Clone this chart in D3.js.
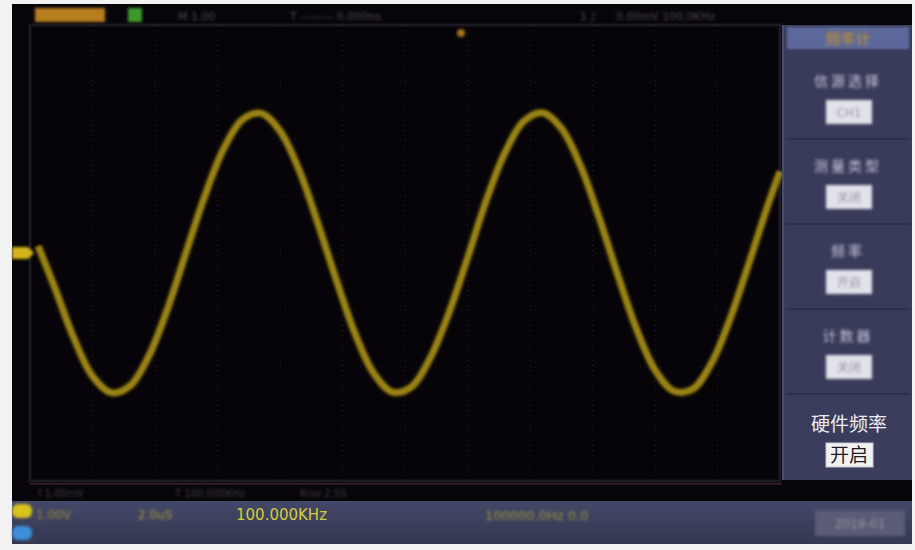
<!DOCTYPE html>
<html>
<head>
<meta charset="utf-8">
<script src="https://cdn.jsdelivr.net/npm/d3@7"></script>
<style>
  body { margin: 0; background: #f4f4f4; }
  svg { display: block; }
  text { font-family: "DejaVu Sans", "Noto Sans CJK SC", sans-serif; }
</style>
</head>
<body>
<svg id="scope" width="915" height="550"></svg>
<script>
// trace samples: time in divisions, volts in divisions
const traceTime = [0.13, 0.4, 0.7, 1.0, 1.3, 1.6, 1.9, 2.2, 2.5, 2.8, 3.1, 3.4, 3.7, 4.0, 4.3, 4.6,
  4.9, 5.2, 5.5, 5.8, 6.1, 6.4, 6.7, 7.0, 7.3, 7.6, 7.9, 8.2, 8.5, 8.8, 9.1, 9.4, 9.7, 10.0,
  10.3, 10.6, 10.9, 11.2, 11.5, 11.8, 12.0];
const traceVolt = [0.12, -0.62, -1.49, -2.16, -2.45, -2.33, -1.81, -0.98, 0.02, 1.01, 1.83, 2.34,
  2.45, 2.14, 1.47, 0.54, -0.47, -1.41, -2.11, -2.44, -2.35, -1.85, -1.06, -0.09, 0.92, 1.76,
  2.31, 2.46, 2.19, 1.55, 0.64, -0.37, -1.32, -2.05, -2.42, -2.39, -1.94, -1.16, -0.19, 0.82, 1.43];

const hDivs = d3.range(0, 13);
const vDivs = d3.range(-4, 5);

// right menu (labels unreadable on the photo, only the last one is sharp)
const menuLabels = ["信源选择", "测量类型", "频率", "计数器"];
const menuValues = ["CH1", "关闭", "开启", "关闭"];
const hwLabel = "硬件频率";
const hwValue = "开启";
const freqText = "100.000KHz";

const svg = d3.select("#scope");
const defs = svg.append("defs");
defs.append("filter").attr("id", "blur").attr("x", "-20%").attr("y", "-50%")
  .attr("width", "140%").attr("height", "200%")
  .append("feGaussianBlur").attr("stdDeviation", 1.8);
defs.append("filter").attr("id", "soft")
  .append("feGaussianBlur").attr("stdDeviation", 1.1);

// screen body
svg.append("rect").attr("x", 12).attr("y", 4).attr("width", 900).attr("height", 540)
  .attr("fill", "#07040a");

// top status bar
const topBar = svg.append("g").attr("filter", "url(#blur)");
topBar.append("rect").attr("x", 35).attr("y", 8).attr("width", 70).attr("height", 14)
  .attr("fill", "#b87d1c");
topBar.append("rect").attr("x", 128).attr("y", 8).attr("width", 14).attr("height", 14)
  .attr("fill", "#3c9a2c");
topBar.selectAll("text.st").data([["M 1.00", 178], ["T ——— 0.000ns", 290], ["1 ∫", 580], ["0.00mV  100.0KHz", 616]])
  .join("text").attr("class", "st")
  .attr("x", d => d[1]).attr("y", 20).attr("font-size", 11).attr("fill", "#4e4954")
  .text(d => d[0]);

// plot area
const x = d3.scaleLinear().domain([0, 12]).range([30, 780]);
const y = d3.scaleLinear().domain([-4, 4]).range([481, 25]);

const plot = svg.append("g");
plot.append("rect").attr("x", x(0)).attr("y", y(4)).attr("width", x(12) - x(0)).attr("height", y(-4) - y(4))
  .attr("fill", "#060309").attr("stroke", "#1d1922").attr("stroke-width", 3);

plot.selectAll("line.vg").data(hDivs.slice(1, -1)).join("line").attr("class", "vg")
  .attr("x1", d => x(d)).attr("x2", d => x(d)).attr("y1", y(4)).attr("y2", y(-4))
  .attr("stroke", "#241e2c").attr("stroke-width", 1).attr("stroke-dasharray", "1,4");
plot.selectAll("line.hg").data(vDivs.slice(1, -1)).join("line").attr("class", "hg")
  .attr("y1", d => y(d)).attr("y2", d => y(d)).attr("x1", x(0)).attr("x2", x(12))
  .attr("stroke", "#1e1926").attr("stroke-width", 1).attr("stroke-dasharray", "1,4");

// trigger marker & ground marker
svg.append("circle").attr("cx", 461).attr("cy", 33).attr("r", 4).attr("fill", "#a8741a")
  .attr("filter", "url(#blur)");
svg.append("path").attr("d", `M12,${y(0) - 6} L28,${y(0) - 6} L34,${y(0)} L28,${y(0) + 6} L12,${y(0) + 6}Z`)
  .attr("fill", "#d4b41c").attr("filter", "url(#blur)");

// waveform
const pts = traceTime.map((t, i) => [t, traceVolt[i]]);
const line = d3.line().x(d => x(d[0])).y(d => y(d[1])).curve(d3.curveCatmullRom);
plot.append("path").datum(pts).attr("d", line)
  .attr("fill", "none").attr("stroke", "#7a680e").attr("stroke-width", 9)
  .attr("stroke-opacity", 0.45).attr("filter", "url(#blur)");
plot.append("path").datum(pts).attr("d", line)
  .attr("fill", "none").attr("stroke", "#988216").attr("stroke-width", 6)
  .attr("filter", "url(#soft)");

// bottom info strip
svg.append("rect").attr("x", 30).attr("y", 483).attr("width", 752).attr("height", 2).attr("fill", "#2a1c22");
const strip = svg.append("g").attr("filter", "url(#blur)");
strip.selectAll("text").data([["f 1.00mV", 38], ["T 100.000KHz", 175], ["Rise 2.5S", 300]])
  .join("text").attr("x", d => d[1]).attr("y", 497).attr("font-size", 10).attr("fill", "#403c46")
  .text(d => d[0]);

// bottom bar
const grad = defs.append("linearGradient").attr("id", "barGrad").attr("x1", 0).attr("y1", 0).attr("x2", 0).attr("y2", 1);
grad.append("stop").attr("offset", 0).attr("stop-color", "#444868");
grad.append("stop").attr("offset", 1).attr("stop-color", "#34374f");
svg.append("rect").attr("x", 12).attr("y", 501).attr("width", 900).attr("height", 43).attr("fill", "url(#barGrad)");
const bar = svg.append("g").attr("filter", "url(#blur)");
bar.append("rect").attr("x", 12).attr("y", 504).attr("width", 20).attr("height", 14).attr("rx", 6).attr("fill", "#d8c41e");
bar.append("rect").attr("x", 12).attr("y", 526).attr("width", 20).attr("height", 14).attr("rx", 6).attr("fill", "#3c8ed8");
bar.append("text").attr("x", 36).attr("y", 519).attr("font-size", 12).attr("fill", "#9a8c3a").text("1.00V");
bar.append("text").attr("x", 138).attr("y", 519).attr("font-size", 12).attr("fill", "#a89a3a").text("2.0uS");
bar.append("text").attr("x", 485).attr("y", 520).attr("font-size", 13).attr("fill", "#9c9640").text("100000.0Hz 0.0");
bar.append("rect").attr("x", 815).attr("y", 510).attr("width", 90).attr("height", 26).attr("fill", "#5a5c74");
bar.append("text").attr("x", 860).attr("y", 528).attr("text-anchor", "middle").attr("font-size", 12)
  .attr("fill", "#8e90a4").text("2019-01");
svg.append("text").attr("x", 236).attr("y", 520).attr("font-size", 15).attr("fill", "#d4cd3c")
  .attr("font-family", "Liberation Sans, sans-serif").text(freqText);

// right menu panel
const panel = svg.append("g");
panel.append("rect").attr("x", 782).attr("y", 25).attr("width", 130).attr("height", 455).attr("fill", "#393b5a");
panel.append("rect").attr("x", 782).attr("y", 25).attr("width", 2).attr("height", 455).attr("fill", "#4a4d6c");
panel.append("rect").attr("x", 787).attr("y", 27).attr("width", 122).attr("height", 22).attr("fill", "#5b679a")
  .attr("filter", "url(#soft)");
panel.append("text").attr("x", 848).attr("y", 44).attr("text-anchor", "middle").attr("font-size", 15)
  .attr("fill", "#c8962c").attr("filter", "url(#blur)").text("频率计");

const itemY = d3.scaleLinear().domain([0, 4]).range([56, 396]);
const items = panel.selectAll("g.item").data(menuLabels).join("g").attr("class", "item")
  .attr("transform", (d, i) => `translate(0,${itemY(i)})`);
items.append("rect").attr("x", 786).attr("y", 82).attr("width", 124).attr("height", 2).attr("fill", "#2e3048");
const blurred = items.append("g").attr("filter", "url(#blur)");
blurred.append("text").attr("x", 848).attr("y", 30).attr("text-anchor", "middle").attr("font-size", 14)
  .attr("fill", "#c4c6da").attr("letter-spacing", 3).text(d => d);
blurred.append("rect").attr("x", 826).attr("y", 44).attr("width", 46).attr("height", 24).attr("fill", "#e2e2ea");
blurred.append("text").attr("x", 849).attr("y", 61).attr("text-anchor", "middle").attr("font-size", 12)
  .attr("fill", "#8a8a98").text((d, i) => menuValues[i]);

panel.append("rect").attr("x", 786).attr("y", 398).attr("width", 124).attr("height", 82).attr("fill", "#3b3d5c");
panel.append("text").attr("x", 849).attr("y", 431).attr("text-anchor", "middle").attr("font-size", 19)
  .attr("fill", "#eeeef4").text(hwLabel);
panel.append("rect").attr("x", 826).attr("y", 443).attr("width", 47).attr("height", 24).attr("fill", "#f2f2f2")
  .attr("stroke", "#c8c8d0");
panel.append("text").attr("x", 849).attr("y", 462).attr("text-anchor", "middle").attr("font-size", 19)
  .attr("fill", "#1c1c24").text(hwValue);

// white photo border
svg.append("rect").attr("x", 0).attr("y", 0).attr("width", 915).attr("height", 4).attr("fill", "#f2f2f2");
svg.append("rect").attr("x", 0).attr("y", 0).attr("width", 11).attr("height", 550).attr("fill", "#f2f2f2");
svg.append("rect").attr("x", 0).attr("y", 544).attr("width", 915).attr("height", 6).attr("fill", "#f2f2f2");
svg.append("rect").attr("x", 912).attr("y", 0).attr("width", 3).attr("height", 550).attr("fill", "#f2f2f2");
</script>
</body>
</html>
